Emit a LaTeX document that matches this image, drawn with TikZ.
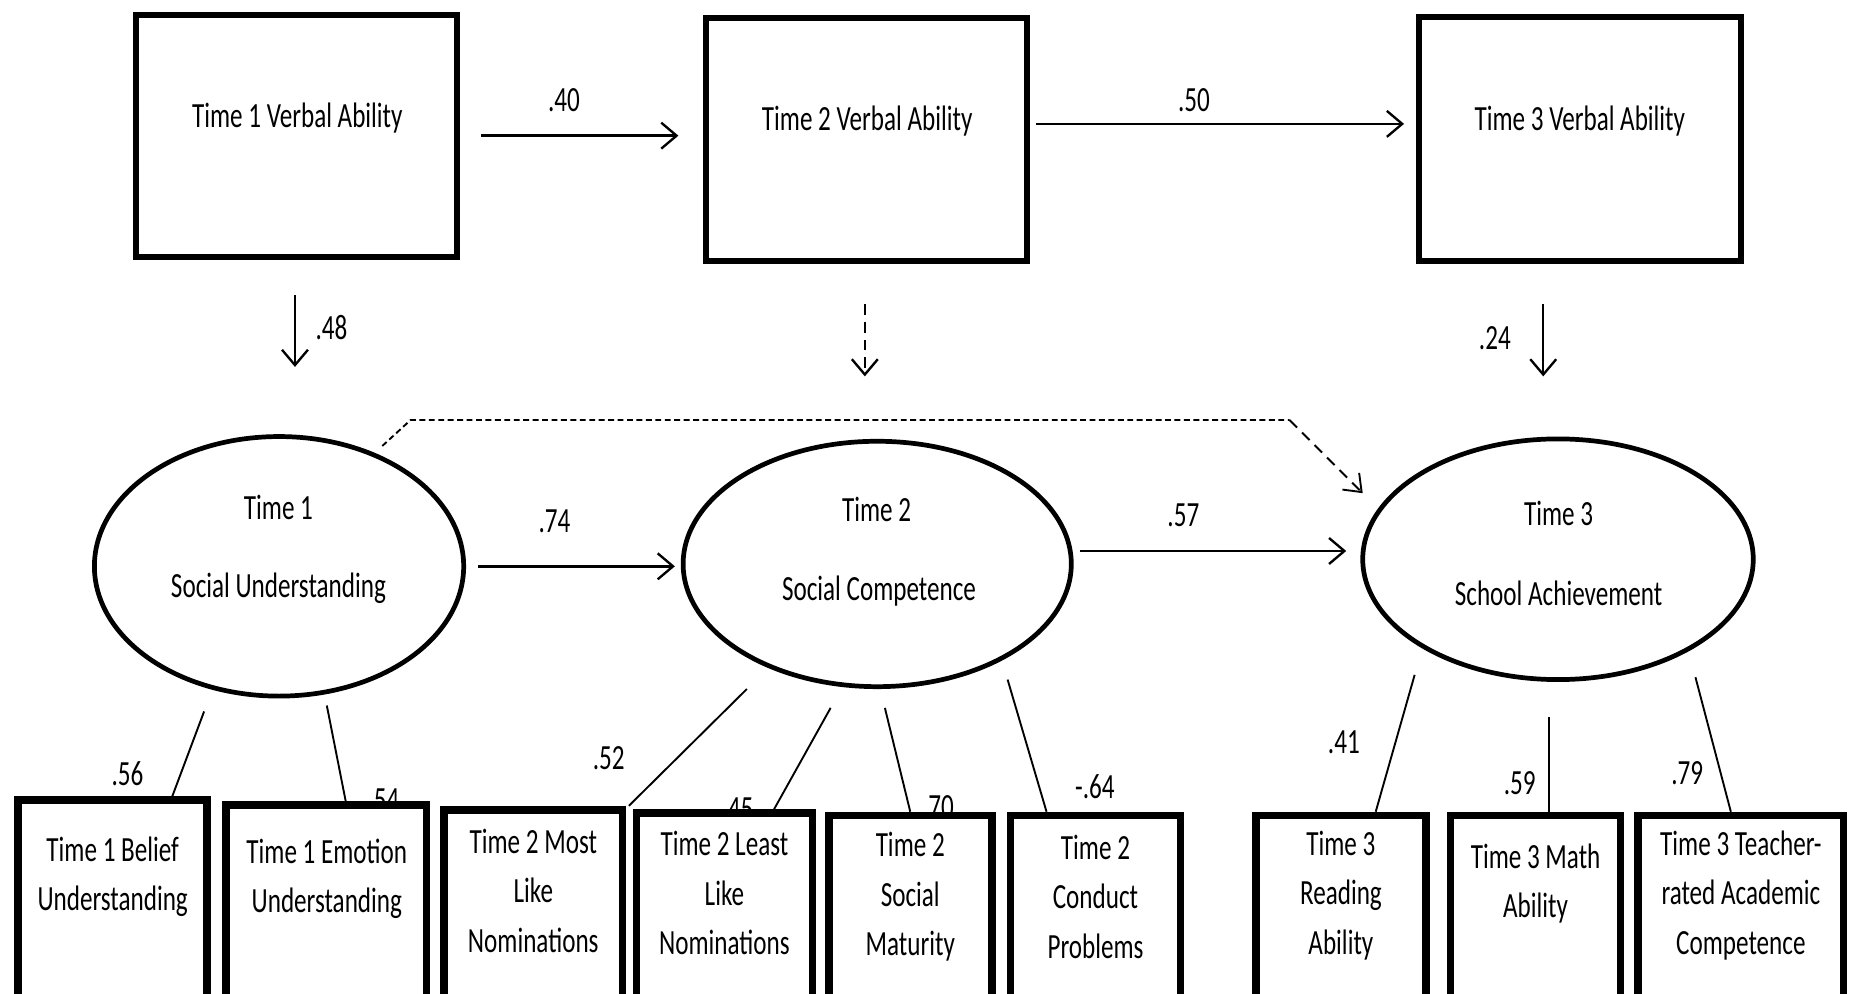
\documentclass[tikz,border=0pt]{standalone}
\usepackage{fontspec}
\setmainfont{Carlito}[FakeStretch=0.71]
\usetikzlibrary{shapes.geometric,arrows.meta}

\begin{document}
\begin{tikzpicture}[x=1pt,y=-1pt,
  every node/.style={inner sep=0pt, font=\fontsize{30}{42}\selectfont},
  txt/.style={align=center},
  vbox/.style={draw, line width=5pt, rectangle, fill=white},
  ind/.style={draw, line width=6.5pt, rectangle, fill=white, anchor=north, minimum height=240pt},
  latent/.style={draw, ellipse, line width=4pt, fill=white},
  arr/.style={line width=2pt, -{Straight Barb[length=13pt,width=22pt,line width=2pt]}},
  darr/.style={arr, dash pattern=on 9pt off 6pt},
  load/.style={line width=1.6pt}]

\useasboundingbox (0,0) rectangle (1568,842);
\clip (0,0) rectangle (1568,842);

% observed verbal ability
\node[vbox, minimum width=272pt, minimum height=205pt] (B1) at (251.5,115) {};
\node[vbox, minimum width=272pt, minimum height=206pt] (B2) at (734.5,118.5) {};
\node[vbox, minimum width=273pt, minimum height=207pt] (B3) at (1339,118) {};
\node[txt] (B1t) at (252,100) {Time 1 Verbal Ability};
\node[txt] (B2t) at (735,103) {Time 2 Verbal Ability};
\node[txt] (B3t) at (1339,103) {Time 3 Verbal Ability};

% latent constructs
\node[latent, minimum width=313pt, minimum height=220pt] (E1) at (236.5,480) {};
\node[latent, minimum width=329pt, minimum height=208pt] (E2) at (743.5,478) {};
\node[latent, minimum width=331pt, minimum height=204pt] (E3) at (1320.5,474) {};
\node[txt] (E1a) at (236,430) {Time 1};
\node[txt] (E1b) at (236,499) {Social Understanding};
\node[txt] (E2a) at (743,432) {Time 2};
\node[txt] (E2b) at (745,501) {Social Competence};
\node[txt] (E3a) at (1321,435) {Time 3};
\node[txt] (E3b) at (1321,503) {School Achievement};

% horizontal paths
\draw[arr, shorten <=18pt, shorten >=21pt] (B1.east) -- (B1.east -| B2.west);
\node (p40) at (478,85) {.40};
\draw[arr, shorten <=5pt, shorten >=10pt] ([yshift=13.5pt]B2.east) -- ([yshift=13.5pt]B2.east -| B3.west);
\node (p50) at (1012,85) {.50};
\draw[arr, shorten <=10pt, shorten >=5pt] (E1.east) -- (E1.east -| E2.west);
\node (p74) at (470,442) {.74};
\draw[arr, shorten <=5pt, shorten >=12pt] ([yshift=11pt]E2.east) -- ([yshift=11pt]E2.east -| E3.west);
\node (p57) at (1003,437) {.57};

% verbal ability to latent constructs
\coordinate (v1s) at (250,250);
\coordinate (v1e) at (250,311);
\coordinate (v2s) at (733,258);
\coordinate (v2e) at (733,319);
\coordinate (v3s) at (1308,258);
\coordinate (v3e) at (1308,319);
\draw[arr] (v1s) -- (v1e);
\node (p48) at (281,278) {.48};
\draw[darr] (v2s) -- (v2e);
\draw[arr] (v3s) -- (v3e);
\node (p24) at (1267,287) {.24};

% direct path from Time 1 to Time 3
\coordinate (d1) at (324,378);
\coordinate (d2) at (348,356);
\coordinate (d3) at (1093,356);
\coordinate (d4) at (1155,418);
\draw[line width=1.6pt, dash pattern=on 5pt off 3pt] (d1) -- (d2) -- (d3);
\draw[line width=1.6pt, dash pattern=on 9pt off 6pt, -{Straight Barb[length=13pt,width=20pt,line width=1.6pt]}] (d3) -- (d4);

% loadings
\node (l54) at (325,678) {.54};
\node (l45) at (625,686) {.45};
\node (l70) at (795,684) {.70};
\node (l56) at (108,656) {.56};
\node (l52) at (516,643) {.52};
\node (l64) at (928,667) {-.64};
\node (l41) at (1139,629) {.41};
\node (l59) at (1288,664) {.59};
\node (l79) at (1430,655) {.79};

% indicators
\node[ind, minimum width=160pt] (b1) at (95.5,675) {};
\node[ind, minimum width=170pt] (b2) at (276.5,679) {};
\node[ind, minimum width=151pt] (b3) at (452,683) {};
\node[ind, minimum width=149pt] (b4) at (614,686) {};
\node[ind, minimum width=138pt] (b5) at (771.5,688) {};
\node[ind, minimum width=144pt] (b6) at (928.5,688) {};
\node[ind, minimum width=144pt] (b7) at (1136.5,688) {};
\node[ind, minimum width=144pt] (b8) at (1301.5,688) {};
\node[ind, minimum width=174pt] (b9) at (1475.5,688) {};

\node[txt] (t1) at (95.5,743) {Time 1 Belief\\Understanding};
\node[txt] (t2) at (277,745) {Time 1 Emotion\\Understanding};
\node[txt] (t3) at (452,755) {Time 2 Most\\Like\\Nominations};
\node[txt] (t4) at (614,757) {Time 2 Least\\Like\\Nominations};
\node[txt] (t5) at (771.5,760) {Time 2\\Social\\Maturity};
\node[txt] (t6) at (928.5,760) {Time 2\\Conduct\\Problems};
\node[txt] (t7) at (1136.5,759) {Time 3\\Reading\\Ability};
\node[txt] (t8) at (1301.5,749) {Time 3 Math\\Ability};
\node[txt] (t9) at (1475.5,759) {Time 3 Teacher-\\rated Academic\\Competence};

\coordinate (s1) at (173,603);
\coordinate (s2) at (277,598);
\coordinate (s3) at (633,584);
\coordinate (s4) at (704,600);
\coordinate (s5) at (750,600);
\coordinate (s6) at (854,576);
\coordinate (s7) at (1199,572);
\coordinate (s8) at (1313,608);
\coordinate (s9) at (1437,574);
\draw[load] (s1) -- ([xshift=50.5pt]b1.north);
\draw[load] (s2) -- ([xshift=16.5pt]b2.north);
\draw[load] (s3) -- ([xshift=81pt]b3.north);
\draw[load] (s4) -- ([xshift=42pt]b4.north);
\draw[load] (s5) -- (b5.north);
\draw[load] (s6) -- ([xshift=-41.5pt]b6.north);
\draw[load] (s7) -- ([xshift=29.5pt]b7.north);
\draw[load] (s8) -- ([xshift=11.5pt]b8.north);
\draw[load] (s9) -- ([xshift=-8.5pt]b9.north);
\end{tikzpicture}
\end{document}
